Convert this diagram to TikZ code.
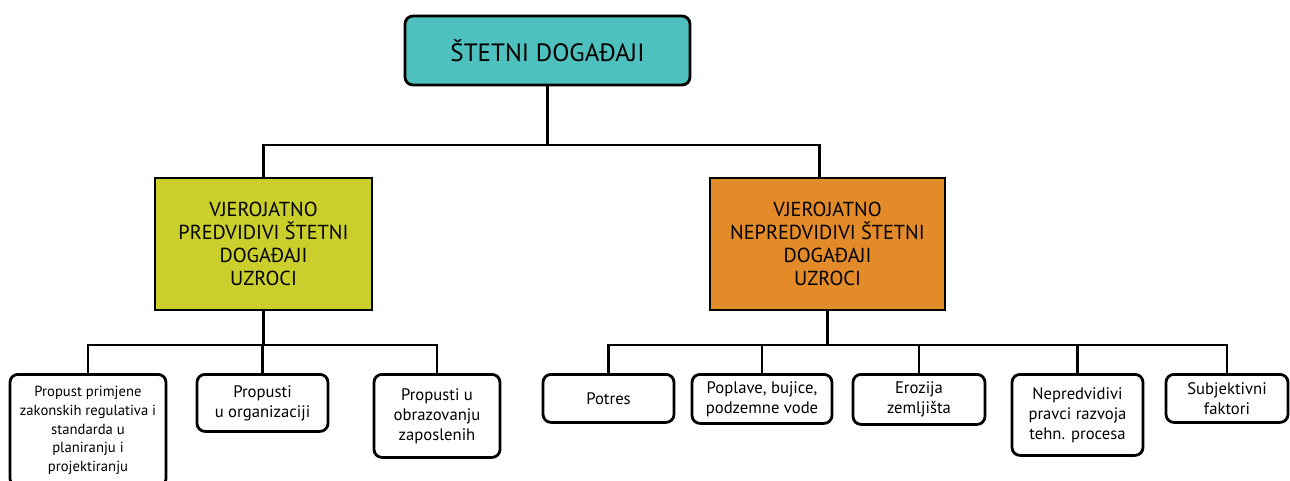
\documentclass[tikz,border=0pt]{standalone}
\usepackage{fontspec}
\setmainfont{PT Sans}
\usetikzlibrary{positioning}

\definecolor{headteal}{HTML}{4EC1BE}
\definecolor{predgreen}{HTML}{CBCF2B}
\definecolor{nepredorange}{HTML}{E38A29}

\begin{document}
\begin{tikzpicture}[x=0.75pt, y=-0.75pt,
    link/.style={line width=2.1pt},
    headbox/.style={draw, line width=2.1pt, rounded corners=6pt, fill=headteal,
      minimum width=213.75pt, minimum height=51.75pt,
      font=\fontsize{18.8}{22}\selectfont},
    groupbox/.style={draw, line width=2.1pt, align=center,
      minimum height=99pt, font=\fontsize{15.2}{17.4}\selectfont},
    leafbox/.style={draw, line width=2.1pt, rounded corners=6pt, align=center,
      anchor=north, inner sep=2pt, font=\fontsize{12.5}{15}\selectfont}]
  \useasboundingbox (0,0) rectangle (1290,480);

  % root
  \node[headbox] (dogadjaji) at (547.5,50.5) {ŠTETNI DOGAĐAJI};

  % two groups of causes
  \node[groupbox, fill=predgreen, minimum width=162.75pt] (predvidivi) at (263.5,244)
    {VJEROJATNO\\PREDVIDIVI ŠTETNI\\DOGAĐAJI\\UZROCI};
  \node[groupbox, fill=nepredorange, minimum width=176.25pt] (nepredvidivi) at (827.5,244)
    {VJEROJATNO\\NEPREDVIDIVI ŠTETNI\\DOGAĐAJI\\UZROCI};

  % predictable causes
  \node[leafbox, minimum width=117pt, minimum height=84pt,
    font=\fontsize{11}{13.9}\selectfont] (regulative) at (88,373)
    {Propust primjene\\zakonskih regulativa i\\standarda u\\planiranju i\\projektiranju};
  \node[leafbox, minimum width=98.25pt, minimum height=42.75pt] (organizacija) at (262.5,373)
    {Propusti\\u organizaciji};
  \node[leafbox, minimum width=94.5pt, minimum height=62.25pt] (obrazovanje) at (437,373)
    {Propusti u\\obrazovanju\\zaposlenih};

  % unpredictable causes
  \node[leafbox, minimum width=98.25pt, minimum height=36pt] (potres) at (608.5,373) {Potres};
  \node[leafbox, minimum width=105pt, minimum height=36.75pt] (poplave) at (762,373)
    {Poplave, bujice,\\podzemne vode};
  \node[leafbox, minimum width=99pt, minimum height=37.5pt] (erozija) at (919,373)
    {Erozija\\zemljišta};
  \node[leafbox, minimum width=98.25pt, minimum height=60.75pt] (tehnika) at (1077.5,373)
    {Nepredvidivi\\pravci razvoja\\tehn. procesa};
  \node[leafbox, minimum width=91.5pt, minimum height=36pt] (subjektivni) at (1227,373)
    {Subjektivni\\faktori};

  % connectors
  \coordinate (bus0) at (547.5,145);
  \coordinate (bus1) at (263.5,345);
  \coordinate (bus2) at (827.5,345);
  \draw[link] (dogadjaji) -- (bus0);
  \draw[link] (bus0) -| (predvidivi);
  \draw[link] (bus0) -| ([xshift=-6pt]nepredvidivi.north);
  \draw[link] (predvidivi) -- (bus1);
  \draw[link] (nepredvidivi) -- (bus2);
  \foreach \leaf in {regulative, organizacija, obrazovanje}
    \draw[link] (bus1) -| (\leaf);
  \foreach \leaf in {potres, poplave, erozija, tehnika, subjektivni}
    \draw[link] (bus2) -| (\leaf);
\end{tikzpicture}
\end{document}
